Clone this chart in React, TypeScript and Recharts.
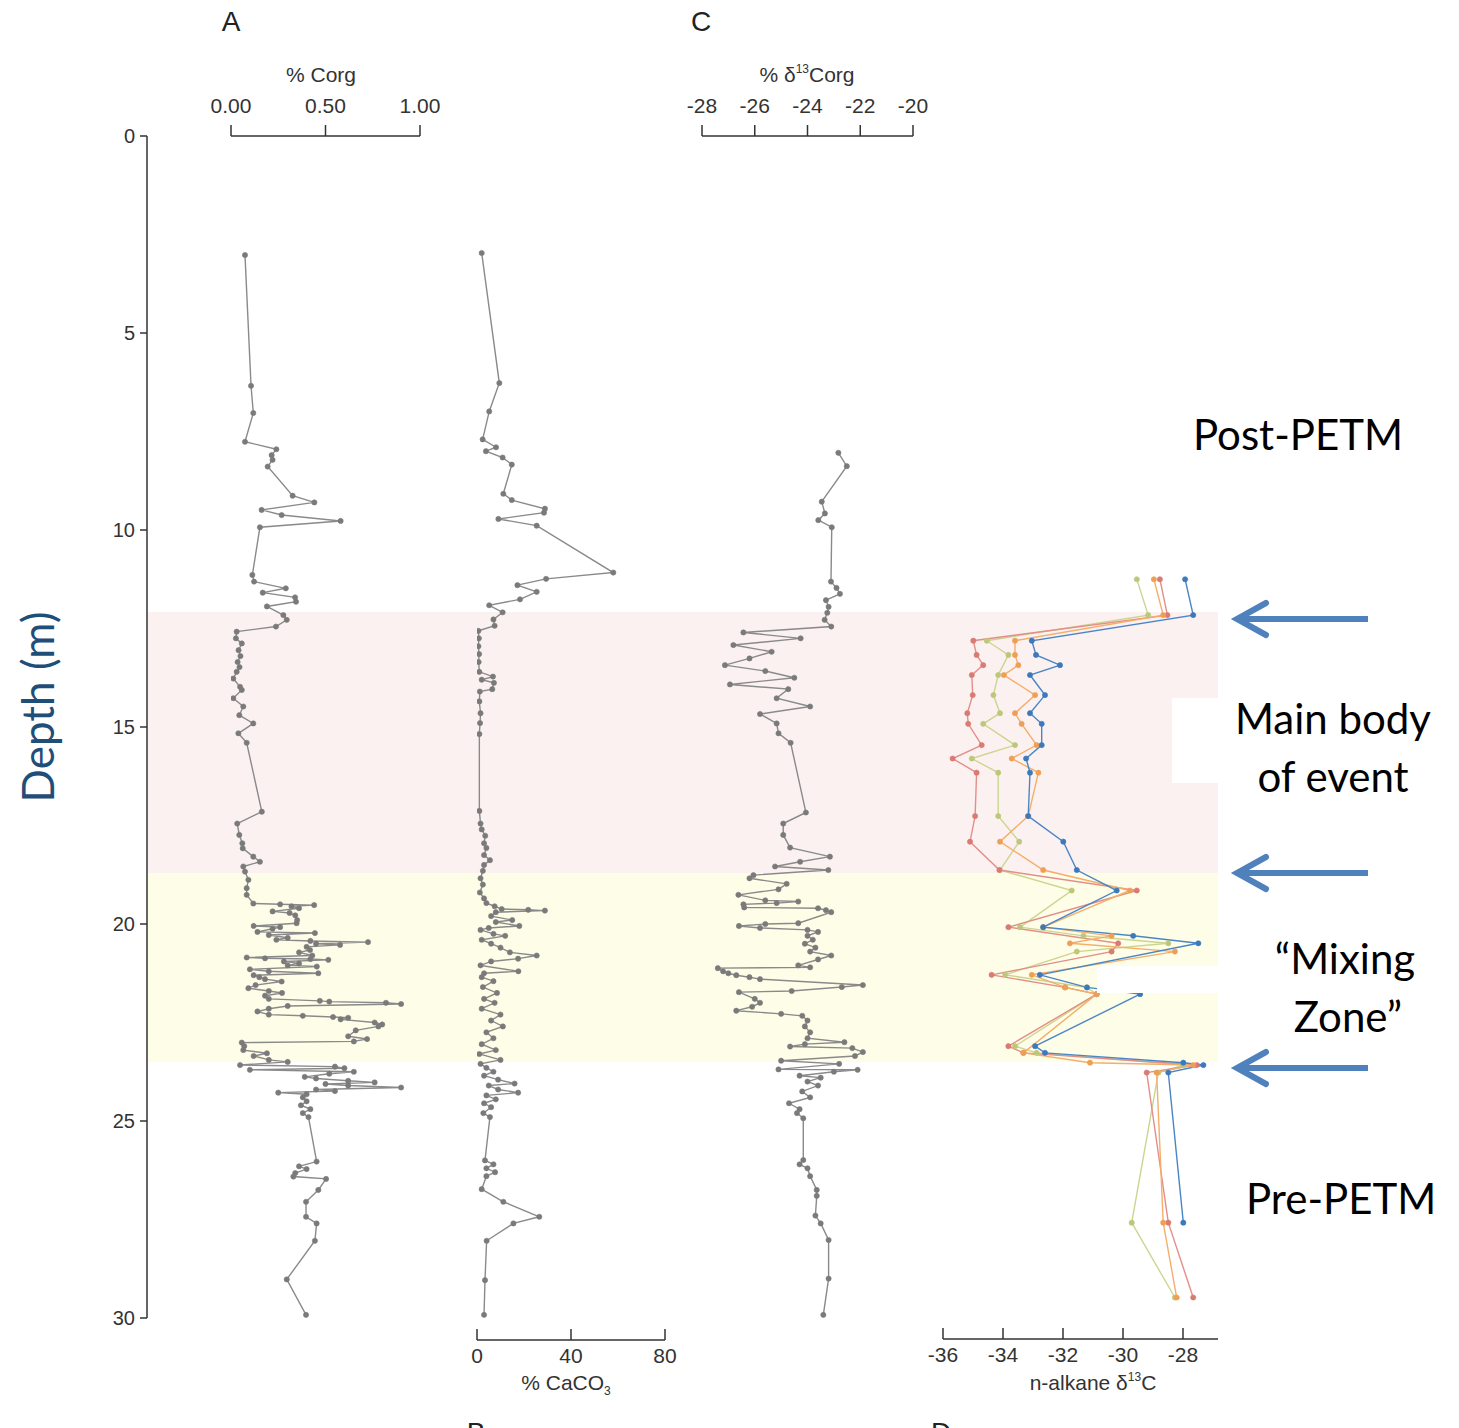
import React from "react";
import { LineChart, Line, XAxis, YAxis, ReferenceArea } from "recharts";

// page + depth scale
const W = 1459;
const H = 1428;
const TOP = 136; // depth 0 m
const BASE = 1318; // depth 30 m
const PX_M = (BASE - TOP) / 30;

const FONT = '"Liberation Sans", Arial, sans-serif';
const BIG = 'Lato, "Open Sans", sans-serif';

type Pt = [number, number]; // [depth (m), value]

const depthTicks = [0, 5, 10, 15, 20, 25, 30];
// zone limits in metres: top of main body, top of mixing zone, base of mixing zone
const zoneLimits = [12.08, 18.71, 23.5];

// A: % Corg
const corgTicks = [0, 0.5, 1];
const corg: Pt[] = [
  [3.02, 0.074], [6.34, 0.106], [7.03, 0.118], [7.76, 0.074], [7.95, 0.24], [8.1, 0.215], [8.22, 0.22],
  [8.39, 0.194], [9.13, 0.326], [9.3, 0.441], [9.49, 0.162], [9.62, 0.268], [9.77, 0.58], [9.93, 0.153],
  [11.14, 0.113], [11.31, 0.122], [11.48, 0.29], [11.59, 0.168], [11.71, 0.339], [11.82, 0.344],
  [11.94, 0.19], [12.16, 0.277], [12.28, 0.295], [12.45, 0.238], [12.58, 0.03], [12.75, 0.026],
  [12.88, 0.057], [13.05, 0.04], [13.2, 0.05], [13.35, 0.035], [13.48, 0.045], [13.6, 0.03],
  [13.77, 0.012], [13.98, 0.048], [14.06, 0.057], [14.27, 0.012], [14.48, 0.065], [14.7, 0.044],
  [14.91, 0.118], [15.16, 0.039], [15.4, 0.083], [17.15, 0.163], [17.45, 0.033], [17.74, 0.044],
  [17.95, 0.06], [18.08, 0.062], [18.29, 0.118], [18.42, 0.153], [18.54, 0.065], [18.67, 0.074],
  [18.88, 0.092], [19.09, 0.083], [19.26, 0.083], [19.48, 0.118], [19.5, 0.26], [19.52, 0.44],
  [19.55, 0.32], [19.6, 0.36], [19.68, 0.22], [19.72, 0.31], [19.78, 0.34], [19.9, 0.35], [19.98, 0.347],
  [20.05, 0.12], [20.08, 0.26], [20.12, 0.22], [20.2, 0.14], [20.23, 0.444], [20.28, 0.2], [20.35, 0.3],
  [20.4, 0.24], [20.43, 0.42], [20.46, 0.725], [20.5, 0.45], [20.53, 0.577], [20.58, 0.4], [20.66, 0.418],
  [20.72, 0.36], [20.8, 0.43], [20.85, 0.083], [20.87, 0.18], [20.89, 0.42], [20.91, 0.515], [20.95, 0.28],
  [21.0, 0.36], [21.05, 0.3], [21.08, 0.454], [21.15, 0.1], [21.2, 0.2], [21.25, 0.462], [21.3, 0.12],
  [21.35, 0.15], [21.4, 0.18], [21.46, 0.268], [21.55, 0.13], [21.63, 0.092], [21.7, 0.2], [21.75, 0.27],
  [21.82, 0.18], [21.9, 0.2], [21.95, 0.47], [21.97, 0.52], [22.0, 0.82], [22.03, 0.9], [22.08, 0.3],
  [22.15, 0.2], [22.22, 0.14], [22.3, 0.2], [22.33, 0.38], [22.36, 0.54], [22.38, 0.62], [22.42, 0.58],
  [22.5, 0.76], [22.55, 0.8], [22.6, 0.78], [22.7, 0.66], [22.85, 0.62], [22.92, 0.72], [22.98, 0.65],
  [23.01, 0.057], [23.1, 0.07], [23.2, 0.065], [23.28, 0.19], [23.35, 0.12], [23.45, 0.2], [23.5, 0.3],
  [23.58, 0.048], [23.62, 0.55], [23.66, 0.6], [23.7, 0.1], [23.75, 0.65], [23.8, 0.52], [23.88, 0.39],
  [23.92, 0.45], [23.98, 0.62], [24.02, 0.76], [24.06, 0.5], [24.1, 0.62], [24.15, 0.9], [24.2, 0.45],
  [24.24, 0.55], [24.28, 0.25], [24.32, 0.4], [24.4, 0.38], [24.5, 0.4], [24.6, 0.37], [24.7, 0.42],
  [24.8, 0.38], [24.9, 0.41], [26.03, 0.453], [26.15, 0.36], [26.22, 0.4], [26.32, 0.34], [26.41, 0.33],
  [26.47, 0.503], [26.75, 0.462], [27.05, 0.397], [27.43, 0.397], [27.6, 0.453], [28.04, 0.444],
  [29.02, 0.295], [29.92, 0.397],
];

// B: % CaCO3
const caco3Ticks = [0, 40, 80];
const caco3: Pt[] = [
  [2.97, 2.0], [6.27, 9.5], [6.99, 5.2], [7.7, 2.4], [7.9, 8.1], [8.0, 3.8], [8.16, 10.9], [8.34, 14.8],
  [9.08, 11.2], [9.24, 14.8], [9.46, 28.9], [9.56, 28.5], [9.72, 9.1], [9.89, 25.4], [11.08, 58],
  [11.24, 29.4], [11.4, 17.2], [11.57, 25.4], [11.76, 18.3], [11.91, 5.2], [12.09, 10.9], [12.27, 7.0],
  [12.43, 7.5], [12.56, 0.6], [12.75, 0.8], [12.95, 0.6], [13.15, 0.9], [13.35, 0.7], [13.6, 1.0],
  [13.72, 6.8], [13.8, 2.0], [13.88, 7.2], [14.04, 6.5], [14.1, 1.2], [14.35, 1.0], [14.65, 1.5],
  [14.9, 1.3], [15.18, 1.0], [17.13, 1.0], [17.45, 1.5], [17.6, 2.0], [17.76, 3.5], [17.95, 3.0],
  [18.07, 4.0], [18.25, 3.0], [18.38, 5.5], [18.5, 3.0], [18.65, 2.5], [18.84, 1.5], [19.0, 2.5],
  [19.2, 1.2], [19.35, 3.0], [19.47, 4.0], [19.55, 7.5], [19.62, 10.5], [19.64, 21.8], [19.66, 28.9],
  [19.7, 8.0], [19.8, 6.0], [19.9, 15.0], [19.95, 8.0], [20.05, 18.0], [20.1, 5.0], [20.15, 1.5],
  [20.25, 7.0], [20.3, 12.0], [20.4, 2.0], [20.5, 6.0], [20.6, 10.0], [20.72, 14.0], [20.8, 25.4],
  [20.88, 17.5], [20.95, 6.0], [21.05, 1.5], [21.2, 17.6], [21.25, 3.0], [21.35, 2.0], [21.45, 7.0],
  [21.6, 2.5], [21.75, 8.5], [21.9, 3.0], [22.0, 7.5], [22.15, 2.0], [22.3, 10.0], [22.45, 6.0],
  [22.6, 11.0], [22.75, 4.0], [22.9, 7.0], [23.05, 2.0], [23.2, 8.0], [23.3, 1.0], [23.45, 10.0],
  [23.55, 1.5], [23.65, 4.0], [23.75, 7.0], [23.85, 3.0], [23.95, 9.0], [24.05, 16.0], [24.1, 5.0],
  [24.2, 9.0], [24.28, 17.5], [24.35, 4.0], [24.45, 8.0], [24.55, 3.0], [24.65, 6.0], [24.8, 2.7],
  [24.9, 5.5], [26.0, 3.4], [26.1, 7.0], [26.2, 4.0], [26.3, 7.7], [26.4, 4.0], [26.73, 2.0],
  [27.05, 11.2], [27.43, 26.5], [27.6, 15.5], [28.04, 4.1], [29.04, 3.4], [29.92, 3.0],
];

// C: δ13C organic
const d13Ticks = [-28, -26, -24, -22, -20];
const d13corg: Pt[] = [
  [8.04, -22.83], [8.38, -22.51], [9.28, -23.46], [9.58, -23.34], [9.75, -23.59], [9.93, -23.08],
  [11.31, -23.11], [11.47, -22.9], [11.62, -22.77], [11.78, -23.3], [11.95, -23.2], [12.1, -23.25],
  [12.28, -23.35], [12.45, -23.1], [12.6, -26.43], [12.75, -24.26], [12.92, -26.81], [13.09, -25.36],
  [13.26, -26.2], [13.43, -27.13], [13.58, -25.6], [13.75, -24.5], [13.92, -26.94], [14.04, -24.73],
  [14.27, -25.17], [14.48, -23.9], [14.67, -25.8], [14.91, -25.17], [15.16, -25.1], [15.4, -24.64],
  [17.17, -24.06], [17.45, -24.92], [17.74, -24.92], [18.06, -24.66], [18.29, -23.15], [18.42, -24.28],
  [18.54, -25.23], [18.63, -23.21], [18.76, -26.05], [18.84, -26.2], [18.98, -24.79], [19.12, -25.1],
  [19.26, -26.62], [19.4, -25.6], [19.43, -24.35], [19.47, -25.17], [19.5, -26.43], [19.58, -26.4],
  [19.6, -23.6], [19.65, -23.3], [19.7, -23.1], [19.98, -24.35], [20.0, -25.6], [20.05, -26.6],
  [20.1, -25.8], [20.15, -24.0], [20.2, -23.6], [20.3, -24.0], [20.4, -23.8], [20.5, -24.1], [20.6, -23.7],
  [20.7, -23.9], [20.8, -23.1], [20.9, -23.6], [21.05, -24.35], [21.1, -23.9], [21.12, -27.4],
  [21.2, -27.2], [21.25, -27.0], [21.3, -26.7], [21.35, -26.2], [21.4, -25.8], [21.55, -21.9],
  [21.6, -22.7], [21.7, -24.6], [21.73, -26.6], [21.9, -26.0], [22.0, -25.8], [22.1, -26.1], [22.2, -26.7],
  [22.28, -25.0], [22.33, -24.2], [22.45, -24.0], [22.6, -24.1], [22.75, -23.9], [22.9, -24.0],
  [23.0, -22.6], [23.05, -24.1], [23.11, -24.66], [23.15, -22.3], [23.25, -21.9], [23.35, -22.2],
  [23.47, -25.0], [23.55, -22.8], [23.69, -25.1], [23.7, -22.1], [23.75, -23.0], [23.85, -24.3],
  [23.9, -23.5], [24.0, -24.0], [24.1, -23.6], [24.25, -24.2], [24.4, -23.9], [24.55, -24.7], [24.7, -24.3],
  [24.8, -24.4], [24.93, -24.16], [25.99, -24.16], [26.1, -24.3], [26.2, -24.0], [26.4, -23.9],
  [26.75, -23.65], [26.9, -23.65], [27.4, -23.7], [27.6, -23.5], [28.02, -23.2], [29.0, -23.2],
  [29.92, -23.4],
];

// D: n-alkane δ13C (four homologues)
const alkTicks = [-36, -34, -32, -30, -28];
const alkBlue: Pt[] = [
  [11.25, -27.93], [12.16, -27.66], [12.81, -33.04], [13.17, -32.9], [13.43, -32.1], [13.68, -33.1],
  [14.19, -32.6], [14.65, -33.1], [14.92, -32.71], [15.46, -32.71], [15.8, -33.23], [16.16, -33.1],
  [17.26, -33.16], [17.91, -31.99], [18.63, -31.54], [19.15, -30.21], [20.08, -32.66], [20.3, -29.66],
  [20.49, -27.49], [21.29, -32.77], [21.61, -31.2], [21.78, -29.43], [23.1, -32.93], [23.27, -32.6],
  [23.52, -27.99], [23.58, -27.32], [23.77, -28.49], [27.58, -27.99],
];
const alkRed: Pt[] = [
  [11.25, -28.77], [12.16, -28.52], [12.81, -34.99], [13.17, -34.88], [13.43, -34.66], [13.68, -35.04],
  [14.19, -35.01], [14.65, -35.19], [14.92, -35.16], [15.46, -34.71], [15.8, -35.68], [16.16, -34.88],
  [17.26, -34.93], [17.91, -35.1], [18.63, -34.12], [19.15, -29.54], [20.08, -33.82], [20.49, -30.16],
  [20.7, -30.38], [21.29, -34.38], [21.61, -31.93], [21.78, -30.88], [23.1, -33.82], [23.27, -33.32],
  [23.58, -27.54], [23.77, -29.21], [27.58, -28.49], [29.48, -27.66],
];
const alkOrange: Pt[] = [
  [11.25, -28.97], [12.16, -28.66], [12.81, -33.6], [13.17, -33.6], [13.43, -33.49], [13.68, -33.97],
  [14.19, -32.93], [14.65, -33.6], [14.92, -33.38], [15.46, -32.88], [15.8, -33.71], [16.16, -32.82],
  [17.26, -33.16], [17.91, -34.1], [18.63, -32.66], [19.15, -29.77], [20.08, -32.66], [20.3, -30.38],
  [20.49, -31.77], [20.7, -28.27], [21.29, -33.04], [21.61, -31.93], [21.78, -30.88], [23.27, -33.32],
  [23.52, -31.1], [23.58, -27.66], [23.77, -28.88], [27.58, -28.66], [29.48, -28.21],
];
const alkGreen: Pt[] = [
  [11.25, -29.54], [12.16, -29.16], [12.81, -34.54], [13.17, -33.82], [13.68, -34.16], [14.19, -34.32],
  [14.65, -34.1], [14.92, -34.66], [15.46, -33.6], [15.8, -35.04], [16.16, -34.16], [17.26, -34.16],
  [17.91, -33.46], [18.63, -34.1], [19.15, -31.71], [20.08, -33.43], [20.3, -31.32], [20.49, -28.49],
  [20.7, -31.54], [21.29, -33.93], [21.61, -31.21], [21.78, -30.88], [23.1, -33.6], [23.27, -32.88],
  [23.58, -27.99], [23.77, -28.82], [27.58, -29.71], [29.48, -28.27],
];

const toRows = (pts: Pt[]) => pts.map(([d, v]) => ({ d, v }));

interface Series {
  name: string;
  pts: Pt[];
  color: string;
  dot: string;
}

const renderTick = (p: any, labelsAbove: boolean, fmt: (v: number) => string) => {
  const { x, y, payload } = p;
  return (
    <g key={`tk-${payload.value}`}>
      <line x1={x} x2={x} y1={y} y2={y - 11} stroke="#333" strokeWidth={1.5} />
      <text
        x={x}
        y={labelsAbove ? y - 23 : y + 23}
        textAnchor="middle"
        fontSize={21}
        fill="#333"
        fontFamily={FONT}
      >
        {fmt(payload.value)}
      </text>
    </g>
  );
};

interface PanelProps {
  x0: number;
  x1: number;
  domain: [number, number];
  ticks: number[];
  atTop: boolean;
  axisY: number;
  fmt: (v: number) => string;
  series: Series[];
}

// one measurement column, overlaid on the page with its own x scale.
// in a vertical layout the number y axis already runs top -> bottom
const Panel = ({ x0, x1, domain, ticks, atTop, axisY, fmt, series }: PanelProps) => {
  const AX = 40;
  const bottomY = atTop ? BASE : axisY;
  const depthMax = (bottomY - TOP) / PX_M;
  const margin = atTop
    ? { top: TOP - AX, bottom: H - bottomY, left: x0, right: W - x1 }
    : { top: TOP, bottom: H - bottomY - AX, left: x0, right: W - x1 };
  return (
    <div style={{ position: "absolute", left: 0, top: 0 }}>
      <LineChart width={W} height={H} layout="vertical" margin={margin}>
        <XAxis
          type="number"
          domain={domain}
          ticks={ticks}
          interval={0}
          orientation={atTop ? "top" : "bottom"}
          height={AX}
          allowDataOverflow
          tickLine={false}
          tickSize={0}
          tickMargin={0}
          axisLine={{ stroke: "#333", strokeWidth: 1.5 }}
          tick={(p: any) => renderTick(p, atTop, fmt)}
        />
        <YAxis type="number" dataKey="d" domain={[0, depthMax]} hide allowDataOverflow />
        {series.map((s) => (
          <Line
            key={s.name}
            data={toRows(s.pts)}
            dataKey="v"
            type="linear"
            stroke={s.color}
            strokeWidth={1.4}
            dot={{ r: 2.6, fill: s.dot, stroke: s.dot, strokeWidth: 0.6 }}
            activeDot={false}
            isAnimationActive={false}
          />
        ))}
      </LineChart>
    </div>
  );
};

const grayStyle = { color: "#8a8a8a", dot: "#7a7a7a" };
// invisible helper rows so the depth chart has a domain to work with
const depthRows = depthTicks.map((d) => ({ d, x: 0.5 }));

const App = () => {
  const blue = "#4F81BD";
  return (
    <div
      style={{
        position: "absolute",
        left: 0,
        top: 0,
        width: W,
        height: H,
        overflow: "hidden",
        background: "#fff",
      }}
    >
      {/* depth axis and zone shading */}
      <div style={{ position: "absolute", left: 0, top: 0 }}>
        <LineChart
          width={W}
          height={H}
          layout="vertical"
          data={depthRows}
          margin={{ top: TOP, bottom: H - BASE, left: 147 - 60, right: W - 1218 }}
        >
          <XAxis type="number" domain={[0, 1]} hide />
          <YAxis
            type="number"
            dataKey="d"
            domain={[0, 30]}
            ticks={depthTicks}
            interval={0}
            width={60}
            tickSize={7}
            tickMargin={5}
            tick={{ fontSize: 20, fill: "#333", fontFamily: FONT }}
            axisLine={{ stroke: "#333", strokeWidth: 1.5 }}
            tickLine={{ stroke: "#333", strokeWidth: 1.5 }}
          />
          <ReferenceArea x1={0} x2={1} y1={zoneLimits[0]} y2={zoneLimits[1]} fill="#FCF1F1" fillOpacity={1} stroke="none" />
          <ReferenceArea x1={0} x2={1} y1={zoneLimits[1]} y2={zoneLimits[2]} fill="#FEFDE8" fillOpacity={1} stroke="none" />
          <Line dataKey="x" stroke="none" dot={false} activeDot={false} isAnimationActive={false} />
        </LineChart>
      </div>

      <Panel
        x0={231}
        x1={420}
        domain={[0, 1]}
        ticks={corgTicks}
        atTop
        axisY={TOP}
        fmt={(v) => v.toFixed(2)}
        series={[{ name: "corg", pts: corg, ...grayStyle }]}
      />
      <Panel
        x0={477}
        x1={665}
        domain={[0, 80]}
        ticks={caco3Ticks}
        atTop={false}
        axisY={1340}
        fmt={(v) => String(v)}
        series={[{ name: "caco3", pts: caco3, ...grayStyle }]}
      />
      <Panel
        x0={702}
        x1={913}
        domain={[-28, -20]}
        ticks={d13Ticks}
        atTop
        axisY={TOP}
        fmt={(v) => String(v)}
        series={[{ name: "d13c", pts: d13corg, ...grayStyle }]}
      />
      <Panel
        x0={943}
        x1={1218}
        domain={[-36, -36 + (1218 - 943) / 30]}
        ticks={alkTicks}
        atTop={false}
        axisY={1339}
        fmt={(v) => String(v)}
        series={[
          { name: "green", pts: alkGreen, color: "#CCD58F", dot: "#BCC77A" },
          { name: "red", pts: alkRed, color: "#E38E88", dot: "#D97A73" },
          { name: "orange", pts: alkOrange, color: "#F4AE6C", dot: "#EE9F55" },
          { name: "blue", pts: alkBlue, color: "#4A86C6", dot: "#3C78BC" },
        ]}
      />

      {/* labels and annotations */}
      <svg width={W} height={H} style={{ position: "absolute", left: 0, top: 0 }}>
        <rect x={1172} y={698} width={46} height={85} fill="#fff" />
        <rect x={1097} y={966} width={121} height={27} fill="#fff" />

        <g fontFamily={FONT} fill="#222">
          <text x={231} y={31} fontSize={28} textAnchor="middle">A</text>
          <text x={701} y={31} fontSize={28} textAnchor="middle">C</text>
          <text x={476} y={1442} fontSize={28} textAnchor="middle">B</text>
          <text x={941} y={1442} fontSize={28} textAnchor="middle">D</text>
          <text x={321} y={82} fontSize={21} textAnchor="middle" fill="#333">% Corg</text>
          <text x={807} y={82} fontSize={21} textAnchor="middle" fill="#333">
            % δ<tspan fontSize={12} dy={-9}>13</tspan>
            <tspan dy={9}>Corg</tspan>
          </text>
          <text x={566} y={1390} fontSize={21} textAnchor="middle" fill="#333">
            % CaCO<tspan fontSize={12} dy={5}>3</tspan>
          </text>
          <text x={1093} y={1390} fontSize={21} textAnchor="middle" fill="#333">
            n-alkane δ<tspan fontSize={12} dy={-9}>13</tspan>
            <tspan dy={9}>C</tspan>
          </text>
        </g>

        <text
          transform="translate(54 707) rotate(-90)"
          textAnchor="middle"
          fontFamily={BIG}
          fontSize={44}
          fill="#1F4E79"
        >
          Depth (m)
        </text>

        <g fontFamily={BIG} fontSize={42} fill="#000">
          <text x={1193} y={450}>Post-PETM</text>
          <text x={1333} y={734} textAnchor="middle">Main body</text>
          <text x={1333} y={792} textAnchor="middle">of event</text>
          <text x={1345} y={974} textAnchor="middle">“Mixing</text>
          <text x={1348} y={1032} textAnchor="middle">Zone”</text>
          <text x={1246} y={1214}>Pre-PETM</text>
        </g>

        {[619, 873, 1068].map((y) => (
          <g key={y} stroke={blue} strokeWidth={6} fill="none" strokeLinecap="round">
            <line x1={1368} y1={y} x2={1240} y2={y} strokeLinecap="butt" />
            <polyline points={`${1266},${y - 16} ${1237},${y} ${1266},${y + 16}`} strokeLinejoin="miter" />
          </g>
        ))}
      </svg>
    </div>
  );
};

export default App;
